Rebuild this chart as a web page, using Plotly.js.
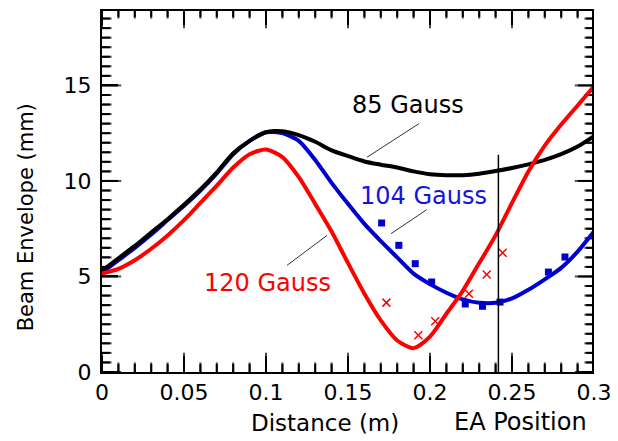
<!DOCTYPE html>
<html>
<head>
<meta charset="utf-8">
<script src="https://cdn.plot.ly/plotly-3.0.1.min.js"></script>
<style>html,body{margin:0;padding:0;background:#fff;}#chart{width:618px;height:441px;}</style>
</head>
<body>
<div id="chart"></div>
<script>
// ---- data ----
const xGrid = [0, 0.01, 0.02, 0.03, 0.04, 0.05, 0.06, 0.07, 0.08, 0.09, 0.1, 0.11, 0.12, 0.13, 0.14, 0.15, 0.16, 0.17, 0.18, 0.19, 0.2, 0.21, 0.22, 0.23, 0.24, 0.25, 0.26, 0.27, 0.28, 0.29, 0.3];
const env85 = [5.3, 5.95, 6.6, 7.3, 8.0, 8.75, 9.55, 10.45, 11.45, 12.1, 12.55, 12.6, 12.4, 12.05, 11.6, 11.3, 11.02, 10.85, 10.7, 10.5, 10.35, 10.3, 10.3, 10.38, 10.52, 10.68, 10.87, 11.1, 11.4, 11.8, 12.35];
const env104 = [5.2, 5.85, 6.5, 7.2, 7.95, 8.7, 9.5, 10.4, 11.4, 12.1, 12.55, 12.5, 12.1, 11.1, 9.9, 8.8, 7.75, 6.85, 6.0, 5.15, 4.6, 4.15, 3.8, 3.62, 3.62, 3.85, 4.3, 4.85, 5.45, 6.3, 7.35];
const env120 = [5.15, 5.4, 5.85, 6.45, 7.15, 7.95, 8.85, 9.75, 10.7, 11.4, 11.65, 11.25, 10.2, 8.8, 7.35, 5.7, 4.1, 2.7, 1.65, 1.25, 1.85, 3.05, 4.25, 5.7, 7.15, 8.85, 10.5, 11.85, 12.95, 13.95, 14.95];
const meas104X = [0.1705, 0.181, 0.191, 0.201, 0.2215, 0.232, 0.2427, 0.2722, 0.2823];
const meas104Y = [7.8, 6.63, 5.67, 4.71, 3.56, 3.44, 3.66, 5.23, 6.02];
const meas120X = [0.1734, 0.1929, 0.2032, 0.2237, 0.2346, 0.2443];
const meas120Y = [3.63, 1.92, 2.66, 4.1, 5.1, 6.24];
const eaPosition = 0.2417;
const eaTop = 11.37;
const xTickVals = [0, 0.05, 0.1, 0.15, 0.2, 0.25, 0.3];
const xTickText = ['0', '0.05', '0.1', '0.15', '0.2', '0.25', '0.3'];
const yTickVals = [0, 5, 10, 15];
const yTickText = ['0', '5', '10', '15'];
const xMinorStep = 0.01;
const yMinorStep = 0.5;
const xRange = [0, 0.3];
const yRange = [0, 19];
const labels = ['85 Gauss', '104 Gauss', '120 Gauss'];

const RED = '#ff0000', BLUE = '#0000cc', BLACK = '#000000';
const FONT = 'DejaVu Sans, Liberation Sans, Arial, sans-serif';
const W = 618, H = 441, M = {l: 102, r: 24, t: 9, b: 69};
const MAJOR_LEN = 16, MINOR_LEN = 8;

// inside tick marks on all four sides, placed through the axis scales
const xPerPx = (xRange[1] - xRange[0]) / (W - M.l - M.r);
const yPerPx = (yRange[1] - yRange[0]) / (H - M.t - M.b);
function tickList(range, step, majors) {
  const out = [];
  const n = Math.round((range[1] - range[0]) / step);
  for (let i = 0; i <= n; i++) {
    const v = +(range[0] + i * step).toFixed(6);
    const isMajor = majors.some(m => Math.abs(m - v) < step / 10);
    out.push({v: v, len: isMajor ? MAJOR_LEN : MINOR_LEN});
  }
  return out;
}
const vTick = {x: [], y: [], s: []};   // vertical ticks on bottom/top edges (marker centres)
const hTick = {x: [], y: [], s: []};   // horizontal ticks on left/right edges
const segX = [], segY = [];
tickList(xRange, xMinorStep, xTickVals).forEach(t => {
  const half = t.len / 2 * yPerPx;
  vTick.x.push(t.v, t.v); vTick.y.push(yRange[0] + half, yRange[1] - half); vTick.s.push(t.len, t.len);
  segX.push(t.v, t.v, null, t.v, t.v, null);
  segY.push(yRange[0], yRange[0] + 2 * half, null, yRange[1], yRange[1] - 2 * half, null);
});
tickList(yRange, yMinorStep, yTickVals).forEach(t => {
  const half = t.len / 2 * xPerPx;
  hTick.x.push(xRange[0] + half, xRange[1] - half); hTick.y.push(t.v, t.v); hTick.s.push(t.len, t.len);
  segX.push(xRange[0], xRange[0] + 2 * half, null, xRange[1], xRange[1] - 2 * half, null);
  segY.push(t.v, t.v, null, t.v, t.v, null);
});

const traces = [
  {x: segX, y: segY, mode: 'lines', line: {color: BLACK, width: 2}},
  {x: vTick.x, y: vTick.y, mode: 'markers', marker: {symbol: 'line-ns-open', size: vTick.s, color: BLACK, line: {color: BLACK, width: 2}}},
  {x: hTick.x, y: hTick.y, mode: 'markers', marker: {symbol: 'line-ew-open', size: hTick.s, color: BLACK, line: {color: BLACK, width: 2}}},
  {x: xGrid, y: env104, mode: 'lines', line: {color: BLUE, width: 4, shape: 'spline', smoothing: 0.7}},
  {x: xGrid, y: env85, mode: 'lines', line: {color: BLACK, width: 4, shape: 'spline', smoothing: 0.7}},
  {x: xGrid, y: env120, mode: 'lines', line: {color: RED, width: 4, shape: 'spline', smoothing: 0.7}},
  {x: meas104X, y: meas104Y, mode: 'markers', marker: {symbol: 'square', size: 7, color: BLUE}},
  {x: meas120X, y: meas120Y, mode: 'markers', marker: {symbol: 'x-thin-open', size: 8, color: RED, line: {color: RED, width: 1.5}}}
];

function axisBase(range, vals, text, standoff) {
  return {
    range: range, autorange: false,
    tickmode: 'array', tickvals: vals, ticktext: text,
    showline: true, linecolor: BLACK, linewidth: 2,
    ticks: 'inside', ticklen: MAJOR_LEN, tickwidth: 2, tickcolor: BLACK,
    showgrid: false, zeroline: false,
    ticklabelstandoff: standoff,
    tickfont: {family: FONT, size: 22, color: BLACK}
  };
}

const layout = {
  width: W, height: H,
  margin: M,
  showlegend: false,
  xaxis: axisBase(xRange, xTickVals, xTickText, 0),
  yaxis: axisBase(yRange, yTickVals, yTickText, 4),
  shapes: [
    // top and right frame edges
    {type: 'line', xref: 'x', yref: 'y', x0: xRange[0], x1: xRange[1], y0: yRange[1], y1: yRange[1], line: {color: BLACK, width: 4}},
    {type: 'line', xref: 'x', yref: 'y', x0: xRange[1], x1: xRange[1], y0: yRange[0], y1: yRange[1], line: {color: BLACK, width: 4}},
    // EA position marker and label leader lines
    {type: 'line', xref: 'x', yref: 'y', x0: eaPosition, x1: eaPosition, y0: 0, y1: eaTop, line: {color: BLACK, width: 1.5}},
    {type: 'line', xref: 'x', yref: 'y', x0: 0.1933, y0: 13.0, x1: 0.1616, y1: 11.24, line: {color: '#333', width: 1}},
    {type: 'line', xref: 'x', yref: 'y', x0: 0.198, y0: 8.5, x1: 0.1762, y1: 7.24, line: {color: '#333', width: 1}},
    {type: 'line', xref: 'x', yref: 'y', x0: 0.1128, y0: 5.58, x1: 0.1372, y1: 7.15, line: {color: '#333', width: 1}}
  ],
  annotations: [
    {x: 0.1863, y: 13.96, xref: 'x', yref: 'y', xanchor: 'center', yanchor: 'middle', text: labels[0], showarrow: false, font: {family: FONT, size: 24, color: BLACK}},
    {x: 0.1963, y: 9.2, xref: 'x', yref: 'y', xanchor: 'center', yanchor: 'middle', text: labels[1], showarrow: false, font: {family: FONT, size: 24, color: '#1414dc'}},
    {x: 0.101, y: 4.67, xref: 'x', yref: 'y', xanchor: 'center', yanchor: 'middle', text: labels[2], showarrow: false, font: {family: FONT, size: 24, color: RED}},
    {x: 0.453, y: -0.141, xref: 'paper', yref: 'paper', xanchor: 'center', yanchor: 'middle', text: 'Distance (m)', showarrow: false, font: {family: FONT, size: 23, color: BLACK}},
    {x: 0.85, y: -0.138, xref: 'paper', yref: 'paper', xanchor: 'center', yanchor: 'middle', text: 'EA Position', showarrow: false, font: {family: FONT, size: 24, color: BLACK}},
    {x: -0.1545, y: 0.426, xref: 'paper', yref: 'paper', xanchor: 'center', yanchor: 'middle', text: 'Beam Envelope (mm)', textangle: -90, showarrow: false, font: {family: FONT, size: 21, color: BLACK}}
  ]
};

Plotly.newPlot('chart', traces, layout, {staticPlot: true});
</script>
</body>
</html>
